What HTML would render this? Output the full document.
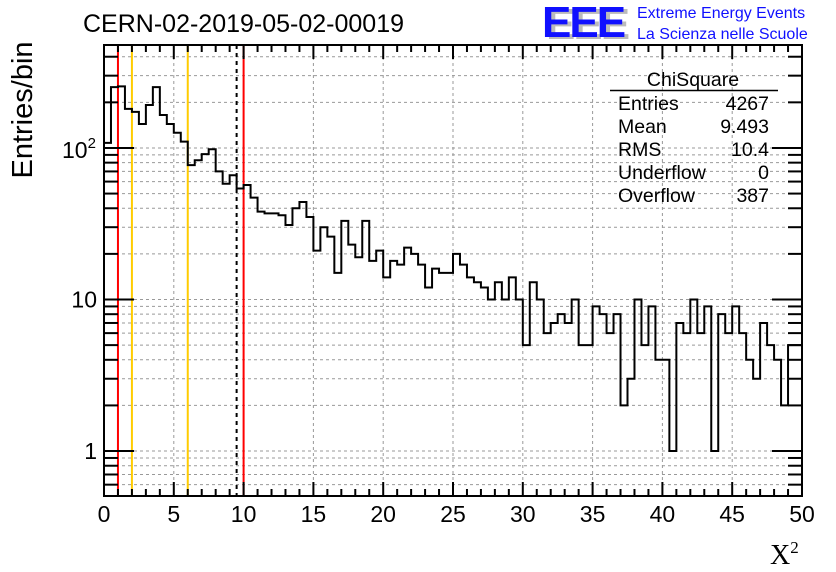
<!DOCTYPE html>
<html><head><meta charset="utf-8"><style>
body{margin:0;background:#fff;}
svg{display:block;font-family:"Liberation Sans",sans-serif;}
</style></head><body>
<svg id="c" width="836" height="572">
<text x="83" y="32" font-size="25">CERN-02-2019-05-02-00019</text>
<g>
<text x="546" y="39" font-size="44" font-weight="bold" fill="#bbb" letter-spacing="-2">EEE</text>
<text x="542" y="37" font-size="44" font-weight="bold" fill="#1010ff" letter-spacing="-2">EEE</text>
<text x="637" y="18" font-size="16" fill="#1010ff">Extreme Energy Events</text>
<text x="637" y="39" font-size="16" fill="#1010ff">La Scienza nelle Scuole</text>
</g>
<text transform="translate(32,110) rotate(-90)" text-anchor="middle" font-size="29">Entries/bin</text>
<text x="770" y="564" font-size="28" font-family="'Liberation Serif',serif">X<tspan font-size="17" dy="-11">2</tspan></text>
<g id="grid"></g><g id="lines"></g><g id="hist"></g><g id="axes"></g>
<g font-size="19.5">
<text x="693" y="86" text-anchor="middle">ChiSquare</text>
<line x1="610" y1="90.5" x2="778" y2="90.5" stroke="#000" stroke-width="1.5"/>
<text x="618" y="110">Entries</text><text x="769" y="110" text-anchor="end">4267</text>
<text x="618" y="133">Mean</text><text x="769" y="133" text-anchor="end">9.493</text>
<text x="618" y="156">RMS</text><text x="769" y="156" text-anchor="end">10.4</text>
<text x="618" y="179">Underflow</text><text x="769" y="179" text-anchor="end">0</text>
<text x="618" y="202">Overflow</text><text x="769" y="202" text-anchor="end">387</text>
</g>
</svg>
<script>
const counts=[108,252,255,181,173,144,192,252,165,144,126,110,77,83,91,98,70,58,66,54,57,47,38,37,37,36,31,40,44,35,21,30,26,15,33,23,19,33,18,21,14,18,17,22,20,17,12,16,15,15,20,17,14,13,12,10,13,10,14,10,5,13,10,6,7,8,7,10,5,5,9,8,6,8,2,3,10,5,9,4,4,1,7,6,10,6,9,1,8,6,9,6,4,3,7,5,4,2,5,5];
const xTicks=[0,5,10,15,20,25,30,35,40,45,50];
const cutLines=[{v:1,c:"#f00",d:""},{v:2,c:"#fc0",d:""},{v:6,c:"#fc0",d:""},{v:9.5,c:"#000",d:"4,4"},{v:10,c:"#f00",d:""}];
const L=104,R=802,T=45,B=496,xmin=0,xmax=50,binW=0.5;
const ymin=Math.log10(0.505),ymax=Math.log10(478);
const X=v=>L+(v-xmin)/(xmax-xmin)*(R-L);
const Y=v=>B-(Math.log10(v)-ymin)/(ymax-ymin)*(B-T);
const NS="http://www.w3.org/2000/svg";
function mk(p,t,a){const e=document.createElementNS(NS,t);for(const k in a)e.setAttribute(k,a[k]);document.getElementById(p).appendChild(e);return e;}
for(const t of xTicks){if(t===0||t===50)continue;const e=mk("grid","line",{x1:X(t),x2:X(t),y1:T,y2:B,stroke:"#999","stroke-dasharray":"3,3"});

}
const minors=[];for(let d=0.1;d<=100;d*=10)for(let m=1;m<10;m++){const v=Math.round(m*d*1000)/1000;if(v>=0.505&&v<=478)minors.push(v);}
for(const v of minors){const e=mk("grid","line",{x1:L,x2:R,y1:Y(v),y2:Y(v),stroke:"#999","stroke-dasharray":"3,3"});

}
for(const c of cutLines){const e=mk("lines","line",{x1:X(c.v),x2:X(c.v),y1:T,y2:B,stroke:c.c,"stroke-width":2,"stroke-dasharray":c.d});

}
let d="M"+X(0)+","+B;
counts.forEach((c,i)=>{const y=Y(Math.max(c,0.505));d+=" L"+X(i*binW)+","+y+" L"+X((i+1)*binW)+","+y;});
d+=" L"+X(counts.length*binW)+","+B;
const h=mk("hist","path",{d:d,fill:"none",stroke:"#000","stroke-width":2});


const f=mk("axes","rect",{x:L,y:T,width:R-L,height:B-T,fill:"none",stroke:"#000","stroke-width":2});


for(let v=0;v<=50;v+=1){const big=v%5===0;const len=big?14:7;
mk("axes","line",{x1:X(v),x2:X(v),y1:B,y2:B-len,stroke:"#000","stroke-width":2});
mk("axes","line",{x1:X(v),x2:X(v),y1:T,y2:T+len,stroke:"#000","stroke-width":2});}
for(const t of xTicks){const e=mk("axes","text",{x:X(t),y:522,"text-anchor":"middle","font-size":23});e.textContent=t;

}
for(const v of minors){const big=[1,10,100].includes(v);const len=big?30:14;
mk("axes","line",{x1:L,x2:L+len,y1:Y(v),y2:Y(v),stroke:"#000","stroke-width":2});
mk("axes","line",{x1:R,x2:R-len,y1:Y(v),y2:Y(v),stroke:"#000","stroke-width":2});}
const yl=[["1",1],["10",10]];
for(const [s,v] of yl){const e=mk("axes","text",{x:97,y:Y(v)+8,"text-anchor":"end","font-size":23});e.textContent=s;

}
const e2=mk("axes","text",{x:62,y:Y(100)+10,"font-size":23});e2.innerHTML='10<tspan font-size="15" dy="-10">2</tspan>';


</script>
</body></html>
